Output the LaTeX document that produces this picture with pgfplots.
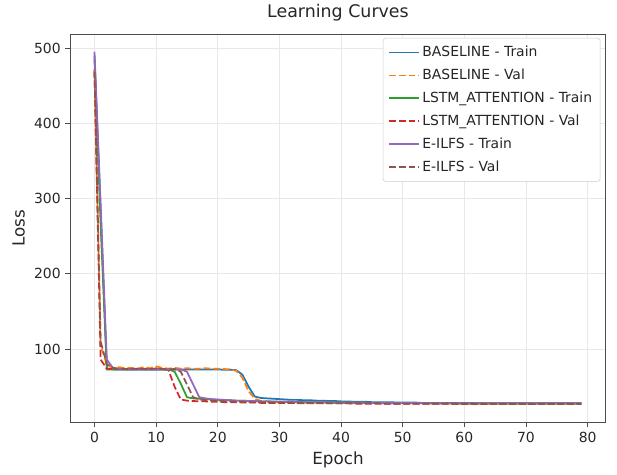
\documentclass[border=0pt]{standalone}
\usepackage{pgfplots}
\usepackage{pgfplotstable}
\pgfplotsset{compat=1.18}
\usepackage{fontspec}
\setmainfont{DejaVu Sans}

\definecolor{tabblue}{HTML}{1F77B4}
\definecolor{taborange}{HTML}{FF7F0E}
\definecolor{tabgreen}{HTML}{2CA02C}
\definecolor{tabred}{HTML}{D62728}
\definecolor{tabpurple}{HTML}{9467BD}
\definecolor{tabbrown}{HTML}{8C564B}

% epoch, baseline train/val, lstm_attention train/val, e-ilfs train/val
\pgfplotstableread{
ep bt   bv   lt   lv   et   ev
0  490  472  485  470  495  468
1  285  105  265  86   292  110
2  74   79   73   74   86   80
3  73   75   73   73.5 75   75
4  73   76   73   73   73.5 74
5  73   74.5 73   73.5 73   73.5
6  73   75   73   73   73   74
7  73   74   73   74   73   73.5
8  73   76   73   73   73   74
9  73   74.5 73   73.5 73   73
10 73   77   73   73   73   74.5
11 73   75   73   74   73   73.5
12 73   74   73   72   73   73
13 73   75   70   50   73   73.5
14 73   74   54   33   73   70
15 73   74.5 36   31.5 70   53
16 73   74   34.5 31   53   36
17 73   74   34   30.5 36   33
18 73   74.5 33.5 30.5 34.5 32
19 73   74   33   30   33.5 31.5
20 73   74   32.5 30   33   31
21 72.5 73.5 32   29.5 32.5 30.5
22 72.5 73   32   29.5 32   30.5
23 72   71   31.5 29.5 31.5 30
24 66   62   31.5 29   31.5 30
25 50   44   31   29   31   29.5
26 37   34   31   29   31   29.5
27 35   31   30.5 28.5 30.5 29.5
28 34.5 30.5 30.5 28.5 30.5 29
29 34   30   30.5 28.5 30   29
30 33.5 30   30   28.5 30   29
31 33   29.5 30   28.5 30   29
32 32.5 29.5 30   28.5 30   28.5
33 32.5 29.5 30   28   29.5 28.5
34 32   29   29.5 28   29.5 28.5
35 32   29   29.5 28   29.5 28.5
36 31.5 29   29.5 28   29.5 28.5
37 31.5 29   29.5 28   29.5 28.5
38 31   29   29.5 28   29   28
39 31   28.5 29   28   29   28
40 30.5 28.5 29   28   29   28
41 30.5 28.5 29   28   29   28
42 30   28.5 29   27.5 29   28
43 30   28.5 29   27.5 29   28
44 30   28.5 29   27.5 28.5 28
45 29.5 28.5 28.5 27.5 28.5 28
46 29.5 28   28.5 27.5 28.5 28
47 29.5 28   28.5 27.5 28.5 27.5
48 29.5 28   28.5 27.5 28.5 27.5
49 29   28   28.5 27.5 28.5 27.5
50 29   28   28.5 27.5 28.5 27.5
51 29   28   28.5 27.5 28.5 27.5
52 29   28   28.5 27.5 28.5 27.5
53 28.5 28   28.5 27.5 28.5 27.5
54 28.5 28   28.5 27.5 28   27.5
55 28.5 27.5 28   27.5 28   27.5
56 28.5 27.5 28   27.5 28   27.5
57 28.5 28.5 28   27.5 28   27.5
58 28.5 27.5 28   27.5 28   27.5
59 28.5 27.5 28   27   28   27.5
60 28.5 27.5 28   27   28   27.5
61 28.5 27.5 28   27   28   27.5
62 28   27.5 28   27   28   27.5
63 28   27.5 28   27   28   27.5
64 28   27.5 28   27   28   27
65 28   27.5 28   27   28   27
66 28   27.5 28   27   28   27
67 28   27.5 28   27   28   27
68 28   27.5 28   27   28   27
69 28   27.5 28   27   28   27
70 28   27.5 28   27   28   27
71 28   27.5 28   27   28   27
72 28   27.5 28   27   28   27
73 28   27.5 28   27   28   27
74 28   27.5 28   27   28   27
75 28   27.5 28   27   28   27
76 28   27.5 28   27   28   27
77 28   27.5 28   27   28   27
78 28   27.5 28   27   28   27
79 28   27.5 28   27   28   27
}\curves

\begin{document}
\begin{tikzpicture}
\begin{axis}[
    scale only axis,
    width=400pt, height=290pt,
    xmin=-3.95, xmax=82.95,
    ymin=2.5, ymax=518.5,
    xtick={0,10,...,80},
    ytick={100,200,300,400,500},
    tick pos=left,
    tick align=outside,
    major tick length=3.5pt,
    tick style={black!70, line width=0.6pt},
    axis line style={black!70, line width=0.7pt},
    xmajorgrids, ymajorgrids,
    grid style={black!9, line width=0.6pt},
    ticklabel style={font=\fontsize{10.4}{12}\selectfont, text=black!85},
    /pgf/number format/assume math mode=true,
    xlabel={Epoch}, ylabel={Loss},
    label style={font=\fontsize{12.5}{14}\selectfont, text=black!85},
    title={Learning Curves},
    title style={font=\fontsize{13}{15}\selectfont, text=black!85},
    legend style={at={(0.99,0.99)}, anchor=north east, draw=black!20,
        rounded corners=2pt, font=\fontsize{10.4}{12}\selectfont,
        text=black!85, row sep=3.7pt, inner sep=4pt},
    legend cell align=left,
    legend image code/.code={\draw[#1] (0pt,0pt) -- (22pt,0pt);},
    every axis plot/.append style={line width=1.3pt},
]
\addplot[tabblue] table[x=ep, y=bt] {\curves};
\addlegendentry{BASELINE - Train}
\addplot[taborange, dash pattern=on 5pt off 2.2pt] table[x=ep, y=bv] {\curves};
\addlegendentry{BASELINE - Val}
\addplot[tabgreen] table[x=ep, y=lt] {\curves};
\addlegendentry{LSTM\_ATTENTION - Train}
\addplot[tabred, dash pattern=on 5pt off 2.2pt] table[x=ep, y=lv] {\curves};
\addlegendentry{LSTM\_ATTENTION - Val}
\addplot[tabpurple] table[x=ep, y=et] {\curves};
\addlegendentry{E-ILFS - Train}
\addplot[tabbrown, dash pattern=on 5pt off 2.2pt] table[x=ep, y=ev] {\curves};
\addlegendentry{E-ILFS - Val}
\end{axis}
\path (current bounding box.south west) ++(-6pt,-2pt);
\path (current bounding box.north east) ++(8pt,0pt);
\end{tikzpicture}
\end{document}
